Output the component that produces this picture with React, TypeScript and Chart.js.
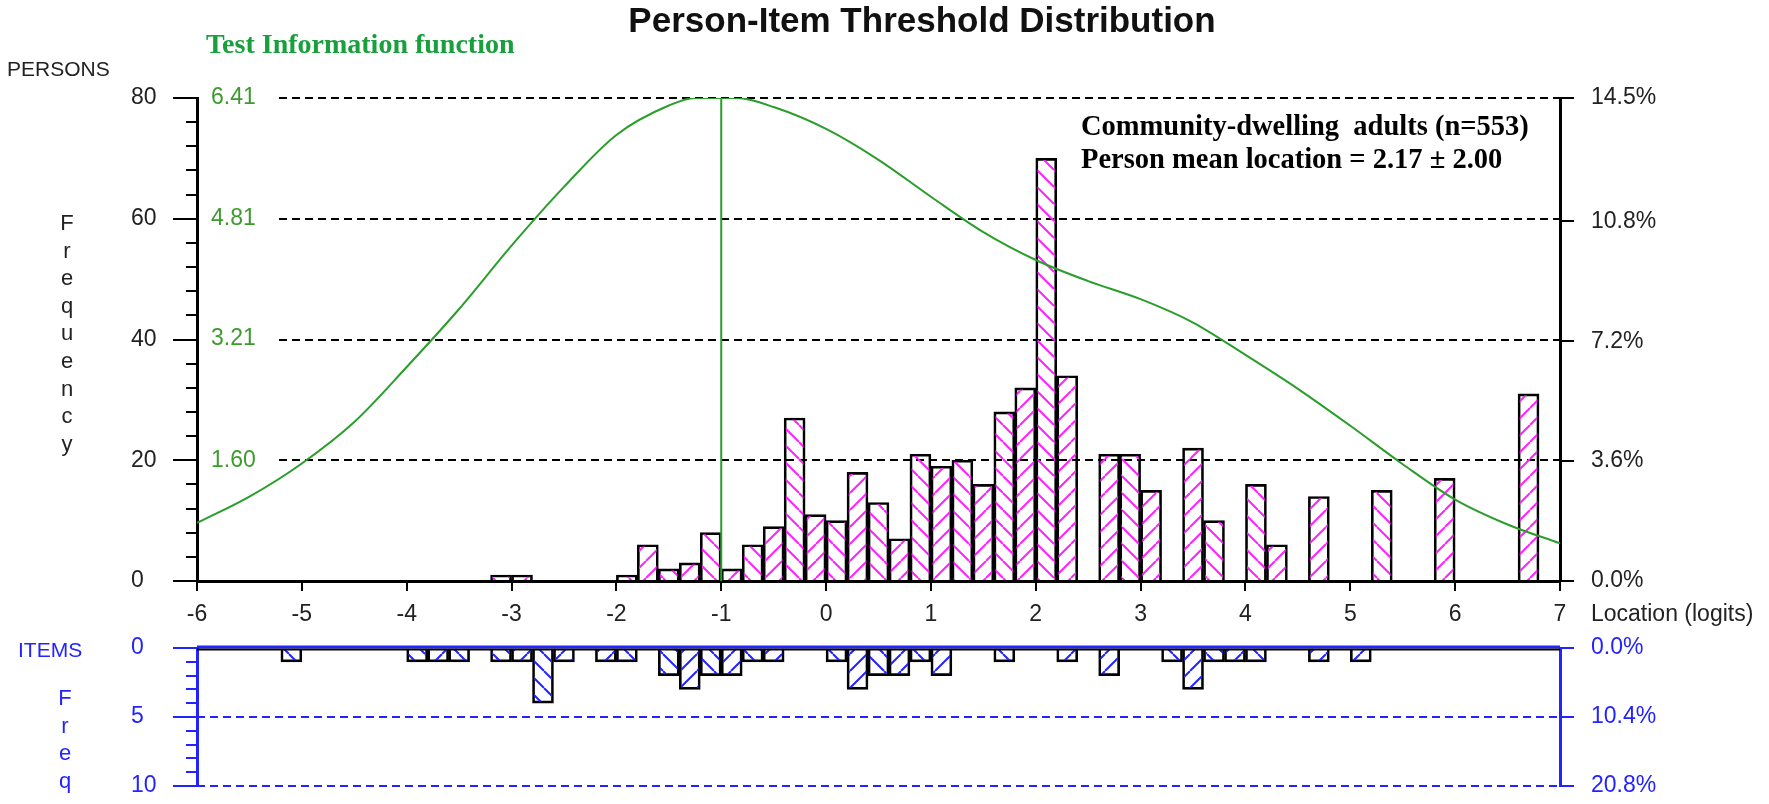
import React, { useEffect, useRef } from 'react';
import { Chart, registerables } from 'chart.js';

Chart.register(...registerables);

// ---------------- data ----------------
const xTickValues = [-6, -5, -4, -3, -2, -1, 0, 1, 2, 3, 4, 5, 6, 7];

// person location bins (bin centres, 0.2 logit wide) and frequencies
const personBins = [-3.1, -2.9, -1.9, -1.7, -1.5, -1.3, -1.1, -0.9, -0.7, -0.5, -0.3, -0.1, 0.1, 0.3, 0.5, 0.7, 0.9, 1.1, 1.3, 1.5, 1.7, 1.9, 2.1, 2.3, 2.7, 2.9, 3.1, 3.5, 3.7, 4.1, 4.3, 4.7, 5.3, 5.9, 6.7];
const personCounts = [1, 1, 1, 6, 2, 3, 8, 2, 6, 9, 27, 11, 10, 18, 13, 7, 21, 19, 20, 16, 28, 32, 70, 34, 21, 21, 15, 22, 10, 16, 6, 14, 15, 17, 31];

// item threshold bins and frequencies
const itemBins = [-5.1, -3.9, -3.7, -3.5, -3.1, -2.9, -2.7, -2.5, -2.1, -1.9, -1.5, -1.3, -1.1, -0.9, -0.7, -0.5, 0.1, 0.3, 0.5, 0.7, 0.9, 1.1, 1.7, 2.3, 2.7, 3.3, 3.5, 3.7, 3.9, 4.1, 4.7, 5.1];
const itemCounts = [1, 1, 1, 1, 1, 1, 4, 1, 1, 1, 2, 3, 2, 2, 1, 1, 1, 3, 2, 2, 1, 2, 1, 1, 2, 1, 3, 1, 1, 1, 1, 1];

// test information function
const tifLocations = [-6, -5.5, -5, -4.5, -4, -3.5, -3, -2.5, -2, -1.5, -1.25, -1, -0.85, -0.5, 0, 0.5, 1, 1.5, 2, 2.5, 3, 3.5, 4, 4.5, 5, 5.5, 6, 6.5, 7];
const tifValues = [0.77, 1.12, 1.56, 2.11, 2.84, 3.61, 4.45, 5.23, 5.92, 6.31, 6.41, 6.41, 6.41, 6.29, 6.0, 5.59, 5.1, 4.63, 4.26, 3.98, 3.74, 3.43, 3.0, 2.55, 2.06, 1.55, 1.08, 0.75, 0.5];
const tifPeakLocation = -1;
const tifPeakValue = 6.41;

// axis tick labels
const personFreqTicks = [0, 20, 40, 60, 80];
const tifTicks = [1.6, 3.21, 4.81, 6.41];
const personPctTicks = [0, 3.6, 7.2, 10.8, 14.5];
const itemFreqTicks = [0, 5, 10];
const itemPctTicks = [0, 10.4, 20.8];

// ---------------- styles ----------------
const SANS = "Arial, 'Liberation Sans', sans-serif";
const SERIF = "'Times New Roman', 'Liberation Serif', serif";
const GREEN = '#2a9d2a';
const GREEN_TEXT = '#17a03c';
const GREEN_TICK = '#3d9b2d';
const BLUE = '#2323ff';
const MAGENTA = '#ff22ff';
const TEXT = '#222';

const BOT_TOP = 620; // page y of the lower canvas

function makeHatch(color: string, forward: boolean): CanvasPattern | string {
  const size = 17;
  const c = document.createElement('canvas');
  c.width = size;
  c.height = size;
  const g = c.getContext('2d');
  if (!g) return 'transparent';
  g.strokeStyle = color;
  g.lineWidth = 2;
  g.beginPath();
  for (let k = -1; k <= 1; k++) {
    if (forward) {
      g.moveTo(k * size, size);
      g.lineTo(k * size + size, 0);
    } else {
      g.moveTo(k * size, 0);
      g.lineTo(k * size + size, size);
    }
  }
  g.stroke();
  return g.createPattern(c, 'repeat') || 'transparent';
}

function binParity(x: number) {
  return Math.round((x - 0.1 + 6) / 0.2) % 2;
}

function noVPad(s: any) {
  s.paddingTop = 0;
  s.paddingBottom = 0;
}

export default function App() {
  const topRef = useRef<HTMLCanvasElement>(null);
  const botRef = useRef<HTMLCanvasElement>(null);

  useEffect(() => {
    const pinkFwd = makeHatch(MAGENTA, true);
    const pinkBack = makeHatch(MAGENTA, false);
    const blueFwd = makeHatch(BLUE, true);
    const blueBack = makeHatch(BLUE, false);

    const topDecor = {
      id: 'topDecor',
      beforeDatasetsDraw(chart: any) {
        const { ctx, chartArea, scales } = chart;
        const y = scales.y;
        ctx.save();
        ctx.strokeStyle = '#000';
        ctx.lineWidth = 2;
        ctx.setLineDash([8, 5]);
        for (const v of personFreqTicks) {
          if (v === 0) continue;
          const py = Math.round(y.getPixelForValue(v));
          ctx.beginPath();
          ctx.moveTo(279, py);
          ctx.lineTo(chartArea.right, py);
          ctx.stroke();
        }
        ctx.setLineDash([]);
        for (let v = 4; v < 80; v += 4) {
          if (v % 20 === 0) continue;
          const py = Math.round(y.getPixelForValue(v));
          ctx.beginPath();
          ctx.moveTo(186, py);
          ctx.lineTo(chartArea.left, py);
          ctx.stroke();
        }
        ctx.restore();
      },
      afterDraw(chart: any) {
        const { ctx } = chart;
        ctx.save();
        ctx.textBaseline = 'alphabetic';
        ctx.fillStyle = '#111';
        ctx.font = `bold 35px ${SANS}`;
        ctx.textAlign = 'center';
        ctx.fillText('Person-Item Threshold Distribution', 922, 32);
        ctx.textAlign = 'left';
        ctx.fillStyle = GREEN_TEXT;
        ctx.font = `bold 28px ${SERIF}`;
        ctx.fillText('Test Information function', 206, 53);
        ctx.fillStyle = TEXT;
        ctx.font = `21px ${SANS}`;
        ctx.fillText('PERSONS', 7, 76);
        ctx.textAlign = 'center';
        ctx.font = `22px ${SANS}`;
        'Frequency'.split('').forEach((ch, i) => ctx.fillText(ch, 67, 230 + 27.6 * i));
        ctx.textAlign = 'left';
        ctx.fillStyle = '#000';
        ctx.font = `bold 28.5px ${SERIF}`;
        ctx.fillText('Community-dwelling  adults (n=553)', 1081, 135);
        ctx.fillText('Person mean location = 2.17 \u00B1 2.00', 1081, 168);
        ctx.fillStyle = TEXT;
        ctx.font = `23px ${SANS}`;
        ctx.textBaseline = 'middle';
        ctx.fillText('Location (logits)', 1591, 615);
        ctx.restore();
      },
    };

    const botDecor = {
      id: 'botDecor',
      beforeDatasetsDraw(chart: any) {
        const { ctx, chartArea, scales } = chart;
        const y = scales.yItems;
        ctx.save();
        ctx.strokeStyle = BLUE;
        ctx.lineWidth = 2;
        ctx.setLineDash([8, 5]);
        for (const v of itemFreqTicks) {
          if (v === 0) continue;
          const py = Math.round(y.getPixelForValue(v));
          ctx.beginPath();
          ctx.moveTo(chartArea.left, py);
          ctx.lineTo(chartArea.right, py);
          ctx.stroke();
        }
        ctx.setLineDash([]);
        for (let v = 1; v < 10; v++) {
          if (v === 5) continue;
          const py = Math.round(y.getPixelForValue(v));
          ctx.beginPath();
          ctx.moveTo(186, py);
          ctx.lineTo(chartArea.left, py);
          ctx.stroke();
        }
        ctx.restore();
      },
      afterDatasetsDraw(chart: any) {
        const { ctx, chartArea, scales } = chart;
        const y0 = Math.round(scales.yItems.getPixelForValue(0));
        ctx.save();
        ctx.strokeStyle = BLUE;
        ctx.lineWidth = 3;
        ctx.beginPath();
        ctx.moveTo(chartArea.left, y0 - 1);
        ctx.lineTo(chartArea.right, y0 - 1);
        ctx.stroke();
        ctx.strokeStyle = '#000';
        ctx.lineWidth = 2;
        ctx.beginPath();
        ctx.moveTo(chartArea.left, y0 + 1.5);
        ctx.lineTo(chartArea.right, y0 + 1.5);
        ctx.stroke();
        ctx.restore();
      },
      afterDraw(chart: any) {
        const { ctx } = chart;
        ctx.save();
        ctx.fillStyle = BLUE;
        ctx.font = `21px ${SANS}`;
        ctx.textAlign = 'left';
        ctx.textBaseline = 'alphabetic';
        ctx.fillText('ITEMS', 18, 657 - BOT_TOP);
        ctx.textAlign = 'center';
        ctx.font = `22px ${SANS}`;
        'Freq'.split('').forEach((ch, i) => ctx.fillText(ch, 65, 705 - BOT_TOP + 27.5 * i));
        ctx.restore();
      },
    };

    const tickFont = { family: SANS, size: 23 };

    const top = new Chart(topRef.current as HTMLCanvasElement, {
      type: 'bar',
      data: {
        datasets: [
          {
            type: 'line',
            label: 'Test information',
            data: tifLocations.map((x, i) => ({ x, y: tifValues[i] })),
            yAxisID: 'yTif',
            xAxisID: 'x',
            borderColor: GREEN,
            borderWidth: 2,
            pointRadius: 0,
            cubicInterpolationMode: 'monotone',
            order: 0,
          } as any,
          {
            type: 'line',
            label: 'Peak',
            data: [
              { x: tifPeakLocation, y: 0 },
              { x: tifPeakLocation, y: tifPeakValue },
            ],
            yAxisID: 'yTif',
            xAxisID: 'x',
            borderColor: GREEN,
            borderWidth: 2,
            pointRadius: 0,
            order: 0,
          } as any,
          {
            type: 'bar',
            label: 'Persons',
            data: personBins.map((x, i) => ({ x, y: personCounts[i] })),
            yAxisID: 'y',
            xAxisID: 'x',
            backgroundColor: (c: any) => (c.raw && binParity(c.raw.x) === 1 ? pinkFwd : pinkBack),
            borderColor: '#000',
            borderWidth: 2,
            barPercentage: 1,
            categoryPercentage: 1,
            order: 1,
          } as any,
        ],
      },
      options: {
        responsive: false,
        maintainAspectRatio: false,
        devicePixelRatio: 1,
        animation: false,
        layout: { padding: { left: 131, top: 98, right: 0, bottom: 0 } },
        plugins: { legend: { display: false }, tooltip: { enabled: false }, title: { display: false } },
        scales: {
          x: {
            type: 'linear',
            min: -6,
            max: 7,
            offset: false,
            position: 'bottom',
            afterBuildTicks: (s: any) => {
              s.ticks = xTickValues.map((v) => ({ value: v }));
            },
            ticks: { font: tickFont, color: TEXT, padding: 10, maxRotation: 0, autoSkip: false, callback: (v: any) => String(v) },
            grid: { display: true, drawOnChartArea: false, drawTicks: true, tickLength: 10, color: '#000', lineWidth: 2, offset: false },
            border: { display: true, color: '#000', width: 3 },
            afterFit: (s: any) => {
              s.height = 59;
            },
          },
          y: {
            type: 'linear',
            position: 'left',
            min: 0,
            max: 80,
            weight: 1,
            afterBuildTicks: (s: any) => {
              s.ticks = personFreqTicks.map((v) => ({ value: v }));
            },
            ticks: { font: tickFont, color: TEXT, crossAlign: 'far', padding: 8 },
            grid: { display: true, drawOnChartArea: false, drawTicks: true, tickLength: 24, color: '#000', lineWidth: 2 },
            border: { display: true, color: '#000', width: 3 },
            afterFit: (s: any) => {
              s.width = 66;
              noVPad(s);
            },
          },
          yTif: {
            type: 'linear',
            position: 'left',
            min: 0,
            max: tifPeakValue,
            weight: 0,
            afterBuildTicks: (s: any) => {
              s.ticks = tifTicks.map((v) => ({ value: v }));
            },
            ticks: { mirror: true, padding: 14, color: GREEN_TICK, font: tickFont, callback: (v: any) => Number(v).toFixed(2) },
            grid: { display: false },
            border: { display: false },
            afterFit: (s: any) => {
              s.width = 0;
              noVPad(s);
            },
          },
          yPct: {
            type: 'linear',
            position: 'right',
            min: 0,
            max: 14.5,
            afterBuildTicks: (s: any) => {
              s.ticks = personPctTicks.map((v) => ({ value: v }));
            },
            ticks: { font: tickFont, color: TEXT, padding: 17, callback: (v: any) => Number(v).toFixed(1) + '%' },
            grid: { display: true, drawOnChartArea: false, drawTicks: true, tickLength: 14, color: '#000', lineWidth: 2 },
            border: { display: true, color: '#000', width: 3 },
            afterFit: (s: any) => {
              s.width = 209;
              noVPad(s);
            },
          },
        },
      } as any,
      plugins: [topDecor],
    });

    const bot = new Chart(botRef.current as HTMLCanvasElement, {
      type: 'bar',
      data: {
        datasets: [
          {
            type: 'bar',
            label: 'Items',
            data: itemBins.map((x, i) => ({ x, y: itemCounts[i] })),
            yAxisID: 'yItems',
            xAxisID: 'x',
            backgroundColor: (c: any) => (c.raw && binParity(c.raw.x) === 1 ? blueFwd : blueBack),
            borderColor: '#000',
            borderWidth: 2,
            barPercentage: 1,
            categoryPercentage: 1,
          } as any,
        ],
      },
      options: {
        responsive: false,
        maintainAspectRatio: false,
        devicePixelRatio: 1,
        animation: false,
        layout: { padding: { left: 131, top: 648 - BOT_TOP, right: 0, bottom: 18 } },
        plugins: { legend: { display: false }, tooltip: { enabled: false }, title: { display: false } },
        scales: {
          x: { type: 'linear', min: -6, max: 7, offset: false, display: false, grid: { offset: false } },
          yItems: {
            type: 'linear',
            position: 'left',
            min: 0,
            max: 10,
            reverse: true,
            weight: 1,
            afterBuildTicks: (s: any) => {
              s.ticks = itemFreqTicks.map((v) => ({ value: v }));
            },
            ticks: { font: tickFont, color: BLUE, crossAlign: 'far', padding: 8 },
            grid: { display: true, drawOnChartArea: false, drawTicks: true, tickLength: 24, color: BLUE, lineWidth: 2 },
            border: { display: true, color: BLUE, width: 3 },
            afterFit: (s: any) => {
              s.width = 66;
              noVPad(s);
            },
          },
          yItemsPct: {
            type: 'linear',
            position: 'right',
            min: 0,
            max: 20.8,
            reverse: true,
            afterBuildTicks: (s: any) => {
              s.ticks = itemPctTicks.map((v) => ({ value: v }));
            },
            ticks: { font: tickFont, color: BLUE, padding: 17, callback: (v: any) => Number(v).toFixed(1) + '%' },
            grid: { display: true, drawOnChartArea: false, drawTicks: true, tickLength: 14, color: BLUE, lineWidth: 2 },
            border: { display: true, color: BLUE, width: 3 },
            afterFit: (s: any) => {
              s.width = 209;
              noVPad(s);
            },
          },
        },
      } as any,
      plugins: [botDecor],
    });

    return () => {
      top.destroy();
      bot.destroy();
    };
  }, []);

  return (
    <div style={{ position: 'absolute', left: 0, top: 0, width: 1769, height: 804, background: '#fff', overflow: 'hidden' }}>
      <canvas ref={topRef} width={1769} height={640} style={{ position: 'absolute', left: 0, top: 0, width: 1769, height: 640 }} />
      <canvas ref={botRef} width={1769} height={804 - BOT_TOP} style={{ position: 'absolute', left: 0, top: BOT_TOP, width: 1769, height: 804 - BOT_TOP }} />
    </div>
  );
}
